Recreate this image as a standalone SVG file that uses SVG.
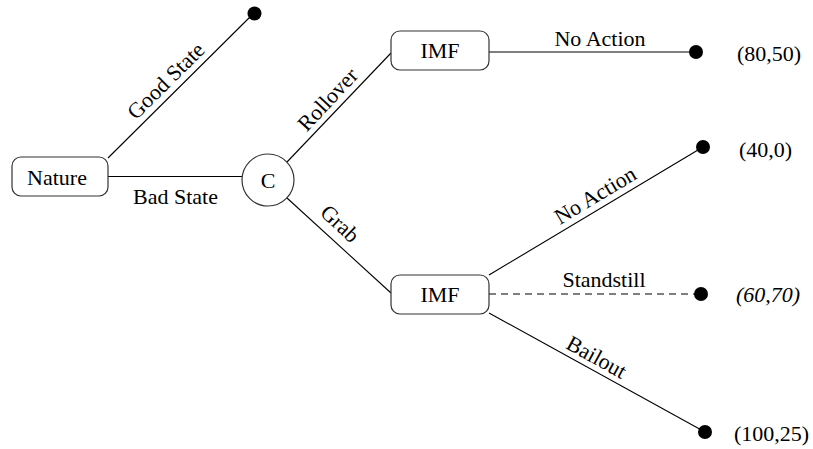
<svg xmlns="http://www.w3.org/2000/svg" width="813" height="449" viewBox="0 0 813 449" font-family="'Liberation Serif', 'DejaVu Serif', 'Times New Roman', serif">
<style>
  text { font-family: "Liberation Serif", "DejaVu Serif", "Times New Roman", serif; font-size: 22px; fill: #000; }
  .box { fill: #fff; stroke: #333; stroke-width: 1.2; }
  .edge { stroke: #000; stroke-width: 1.1; fill: none; }
  .dash { stroke-dasharray: 7 5; }
  .dot { fill: #000; }
  .mid { text-anchor: middle; }
  .it { font-style: italic; }
</style>
<rect width="813" height="449" fill="#fff"/>
<g id="connectors">
  <line class="edge" x1="108" y1="158" x2="254" y2="13"/>
  <line class="edge" x1="108" y1="176.5" x2="242" y2="176.5"/>
  <line class="edge" x1="287" y1="162" x2="391" y2="53"/>
  <line class="edge" x1="287" y1="198" x2="391" y2="293"/>
  <line class="edge" x1="489" y1="52" x2="696" y2="52"/>
  <line class="edge" x1="489" y1="275" x2="703" y2="147"/>
  <line class="edge dash" x1="489" y1="294" x2="701" y2="294"/>
  <line class="edge" x1="489" y1="313" x2="705" y2="432"/>
  <text class="mid" transform="translate(171,86) rotate(-44.8)">Good State</text>
  <text class="mid" x="175.5" y="204">Bad State</text>
  <text class="mid" transform="translate(333,104.5) rotate(-46.9)">Rollover</text>
  <text class="mid" transform="translate(335,229) rotate(43.3)">Grab</text>
  <text class="mid" x="600" y="46">No Action</text>
  <text class="mid" transform="translate(599,201.5) rotate(-30.9)">No Action</text>
  <text class="mid" x="604" y="287">Standstill</text>
  <text class="mid" transform="translate(593,363.5) rotate(28.9)">Bailout</text>
</g>
<g id="nature">
  <rect class="box" x="12" y="157" width="96" height="39" rx="9"/>
  <text class="mid" x="57" y="185">Nature</text>
</g>
<g id="c">
  <circle class="box" cx="268" cy="180" r="26"/>
  <text class="mid" x="268" y="188">C</text>
</g>
<g id="imf-top">
  <rect class="box" x="391" y="31" width="98" height="39" rx="9"/>
  <text class="mid" x="440" y="58">IMF</text>
</g>
<g id="imf-bottom">
  <rect class="box" x="391" y="275" width="98" height="39" rx="9"/>
  <text class="mid" x="440" y="302">IMF</text>
</g>
<g id="leaf-good">
  <circle class="dot" cx="254.5" cy="13.5" r="7"/>
</g>
<g id="leaf-8050">
  <circle class="dot" cx="696" cy="52" r="7"/>
  <text x="737" y="61">(80,50)</text>
</g>
<g id="leaf-400">
  <circle class="dot" cx="703" cy="147" r="7"/>
  <text x="739" y="157">(40,0)</text>
</g>
<g id="leaf-6070">
  <circle class="dot" cx="701" cy="294" r="7"/>
  <text class="it" x="736" y="302">(60,70)</text>
</g>
<g id="leaf-10025">
  <circle class="dot" cx="705" cy="432" r="7"/>
  <text x="734" y="441">(100,25)</text>
</g>
</svg>
